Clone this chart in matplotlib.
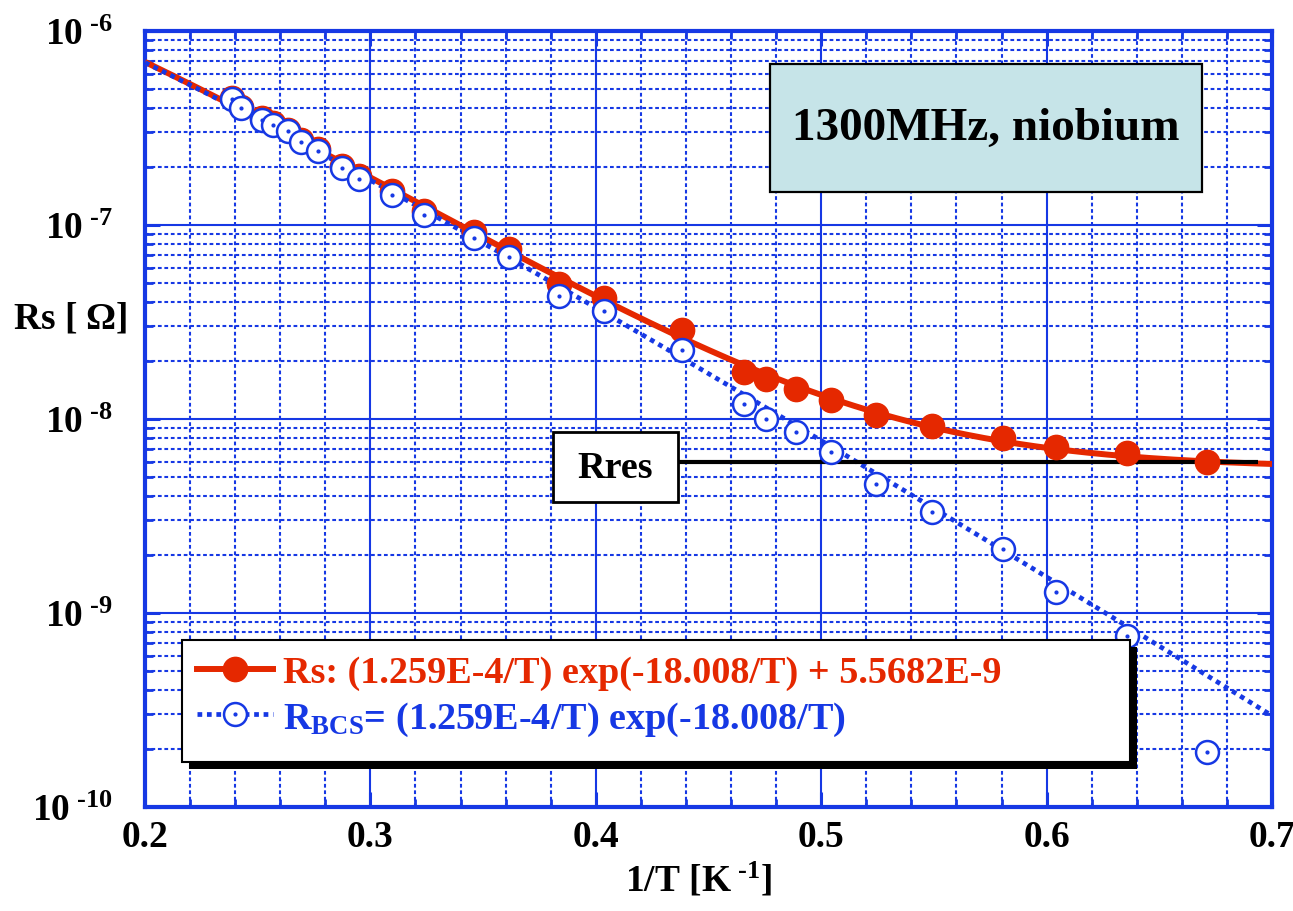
import numpy as np
import matplotlib
matplotlib.use("Agg")
import matplotlib.pyplot as plt
from matplotlib.patches import Rectangle
from matplotlib.lines import Line2D
from matplotlib.legend_handler import HandlerTuple
from matplotlib.ticker import (MultipleLocator, FixedLocator, FuncFormatter,
                               NullFormatter)

plt.rcParams['font.family'] = ['Liberation Serif', 'DejaVu Serif']
plt.rcParams['font.weight'] = 'bold'
plt.rcParams['mathtext.fontset'] = 'custom'
plt.rcParams['mathtext.rm'] = 'Liberation Serif:bold'
plt.rcParams['mathtext.bf'] = 'Liberation Serif:bold'
plt.rcParams['mathtext.it'] = 'Liberation Serif:bold:italic'
plt.rcParams['mathtext.default'] = 'rm'

# ---- measured surface resistance vs inverse temperature ----
inv_T = [0.2386, 0.2425, 0.2518, 0.2567, 0.2634, 0.2692, 0.2769, 0.2875,
         0.2951, 0.3096, 0.3239, 0.3460, 0.3615, 0.3835, 0.4035, 0.4381,
         0.4657, 0.4755, 0.4888, 0.5042, 0.5243, 0.5493, 0.5808, 0.6040,
         0.6355, 0.6710]
rs_meas = [4.52e-7, 4.07e-7, 3.55e-7, 3.34e-7, 3.10e-7, 2.73e-7, 2.46e-7,
           2.02e-7, 1.79e-7, 1.49e-7, 1.18e-7, 9.17e-8, 7.52e-8, 4.97e-8,
           4.19e-8, 2.88e-8, 1.75e-8, 1.60e-8, 1.43e-8, 1.26e-8, 1.05e-8,
           9.25e-9, 7.95e-9, 7.14e-9, 6.66e-9, 5.98e-9]
r_bcs = [4.46e-7, 4.01e-7, 3.49e-7, 3.28e-7, 3.04e-7, 2.67e-7, 2.40e-7,
         1.96e-7, 1.73e-7, 1.43e-7, 1.12e-7, 8.60e-8, 6.84e-8, 4.29e-8,
         3.59e-8, 2.27e-8, 1.19e-8, 1.00e-8, 8.54e-9, 6.78e-9, 4.62e-9,
         3.30e-9, 2.14e-9, 1.28e-9, 7.64e-10, 1.91e-10]

# ---- fit parameters (as quoted in the legend) ----
A_BCS = 1.259e-4
DELTA_OVER_K = 18.008
R_RES_FIT = 5.5682e-9

# residual resistance marker line
r_res_level = 6.0e-9
r_res_span = [0.4365, 0.694]

y_decades = [1e-10, 1e-9, 1e-8, 1e-7, 1e-6]
label_rs = "Rs: (1.259E-4/T) exp(-18.008/T) + 5.5682E-9"
label_bcs = r"R$_{\mathrm{BCS}}$= (1.259E-4/T) exp(-18.008/T)"
title_text = "1300MHz, niobium"

RED = '#E52800'
BLUE = '#1638E4'
BOX_FILL = '#C6E4E8'
DOTS = (0, (1.0, 1.0))

fig = plt.figure(figsize=(12.93, 9.12), dpi=100)
ax = fig.add_axes([0.11214, 0.11404, 0.87162, 0.85088])

# fitted curves
xf = np.linspace(0.2, 0.7, 400)
bcs_fit = A_BCS * xf * np.exp(-DELTA_OVER_K * xf)
rs_fit = bcs_fit + R_RES_FIT
ax.plot(xf, rs_fit, color=RED, lw=4.3, zorder=3, solid_capstyle='butt')
ax.plot(xf, bcs_fit, color=BLUE, lw=3.4, ls=DOTS, zorder=3)

# residual resistance level
ax.hlines(r_res_level, r_res_span[0], r_res_span[1], colors='black', lw=3.0, zorder=3.5)

# measured points
ax.plot(inv_T, rs_meas, ls='none', marker='o', ms=17.5, mfc=RED, mec=RED, zorder=4)
ax.plot(inv_T, r_bcs, ls='none', marker='o', ms=16.5, mfc='white', mec=BLUE,
        mew=1.8, zorder=4.2)
ax.plot(inv_T, r_bcs, ls='none', marker='o', ms=2.0, color=BLUE, zorder=4.3)

ax.set_yscale('log')
ax.set_xlim(0.2, 0.7)
ax.set_ylim(1e-10, 1e-6)

ax.xaxis.set_major_locator(MultipleLocator(0.1))
ax.xaxis.set_minor_locator(MultipleLocator(0.02))
ax.xaxis.set_major_formatter(FuncFormatter(lambda v, p: f"{v:.1f}"))
minor_y = [m * d for d in y_decades[:-1] for m in range(2, 10)]
ax.yaxis.set_major_locator(FixedLocator(y_decades))
ax.yaxis.set_minor_locator(FixedLocator(minor_y))
ax.yaxis.set_minor_formatter(NullFormatter())
ax.yaxis.set_major_formatter(
    FuncFormatter(lambda v, p: r"$10^{\ \text{-%d}}$" % int(round(-np.log10(v)))))

ax.set_axisbelow(True)
ax.grid(which='major', color=BLUE, lw=1.5, ls='-')
ax.grid(which='minor', color=BLUE, lw=1.5, ls=(0, (1.8, 1.3)))

ax.tick_params(which='both', direction='in', top=True, right=True, color=BLUE,
               labelcolor='black')
ax.tick_params(which='major', length=11, width=2.2, labelsize=27, pad=9)
ax.tick_params(axis='y', which='major', pad=23)
ax.tick_params(which='minor', length=6, width=2.0)
for sp in ax.spines.values():
    sp.set_color(BLUE)
    sp.set_linewidth(3.0)

ax.set_xlabel(r"1/T [K$^{\ \text{-1}}$]", fontsize=27, fontweight='bold', va='center')
ax.xaxis.set_label_coords(0.4907, -0.0935)
ax.set_ylabel(r"Rs [ $\Omega$]", fontsize=27, fontweight='bold', rotation=0,
              ha='center', va='center')
ax.yaxis.set_label_coords(-0.0665, 0.630)

# title box
ax.add_patch(Rectangle((0.5546, 0.7925), 0.3833, 0.1650, transform=ax.transAxes,
                       facecolor=BOX_FILL, edgecolor='black', lw=1.6, zorder=5))
ax.text(0.7462, 0.8750, title_text, transform=ax.transAxes, fontsize=34,
        fontweight='bold', ha='center', va='center', zorder=6)

# Rres box
ax.add_patch(Rectangle((0.3620, 0.3930), 0.1109, 0.0902, transform=ax.transAxes,
                       facecolor='white', edgecolor='black', lw=2.0, zorder=5))
ax.text(0.4170, 0.4381, "Rres", transform=ax.transAxes, fontsize=27.5,
        fontweight='bold', ha='center', va='center', zorder=6)

# legend panel with drop shadow
lx0, ly0, lw_, lh_ = 0.0328, 0.0580, 0.8412, 0.1572
ax.add_patch(Rectangle((lx0 + 0.0062, ly0 - 0.0090), lw_, lh_, transform=ax.transAxes,
                       facecolor='black', edgecolor='black', lw=0, zorder=5.5))
ax.add_patch(Rectangle((lx0, ly0), lw_, lh_, transform=ax.transAxes,
                       facecolor='white', edgecolor='black', lw=1.5, zorder=5.6))

h_rs = Line2D([], [], color=RED, lw=4.3, marker='o', ms=17.5, mfc=RED, mec=RED)
h_bcs = Line2D([], [], color=BLUE, lw=3.4, ls=DOTS, marker='o', ms=16.5,
               mfc='white', mec=BLUE, mew=1.8)
h_dot = Line2D([], [], ls='none', marker='o', ms=2.0, color=BLUE)
leg = ax.legend([h_rs, (h_bcs, h_dot)], [label_rs, label_bcs],
                handler_map={tuple: HandlerTuple(ndivide=1)},
                loc='upper left', bbox_to_anchor=(0.0461, 0.1960),
                frameon=False, fontsize=27.5, handlelength=2.0, handletextpad=0.25,
                labelspacing=0.25, borderpad=0.0, borderaxespad=0.0, numpoints=1)
leg.set_zorder(7)
leg.get_texts()[0].set_color(RED)
leg.get_texts()[1].set_color(BLUE)
for t in leg.get_texts():
    t.set_fontweight('bold')

fig.savefig("out.png", dpi=100)
